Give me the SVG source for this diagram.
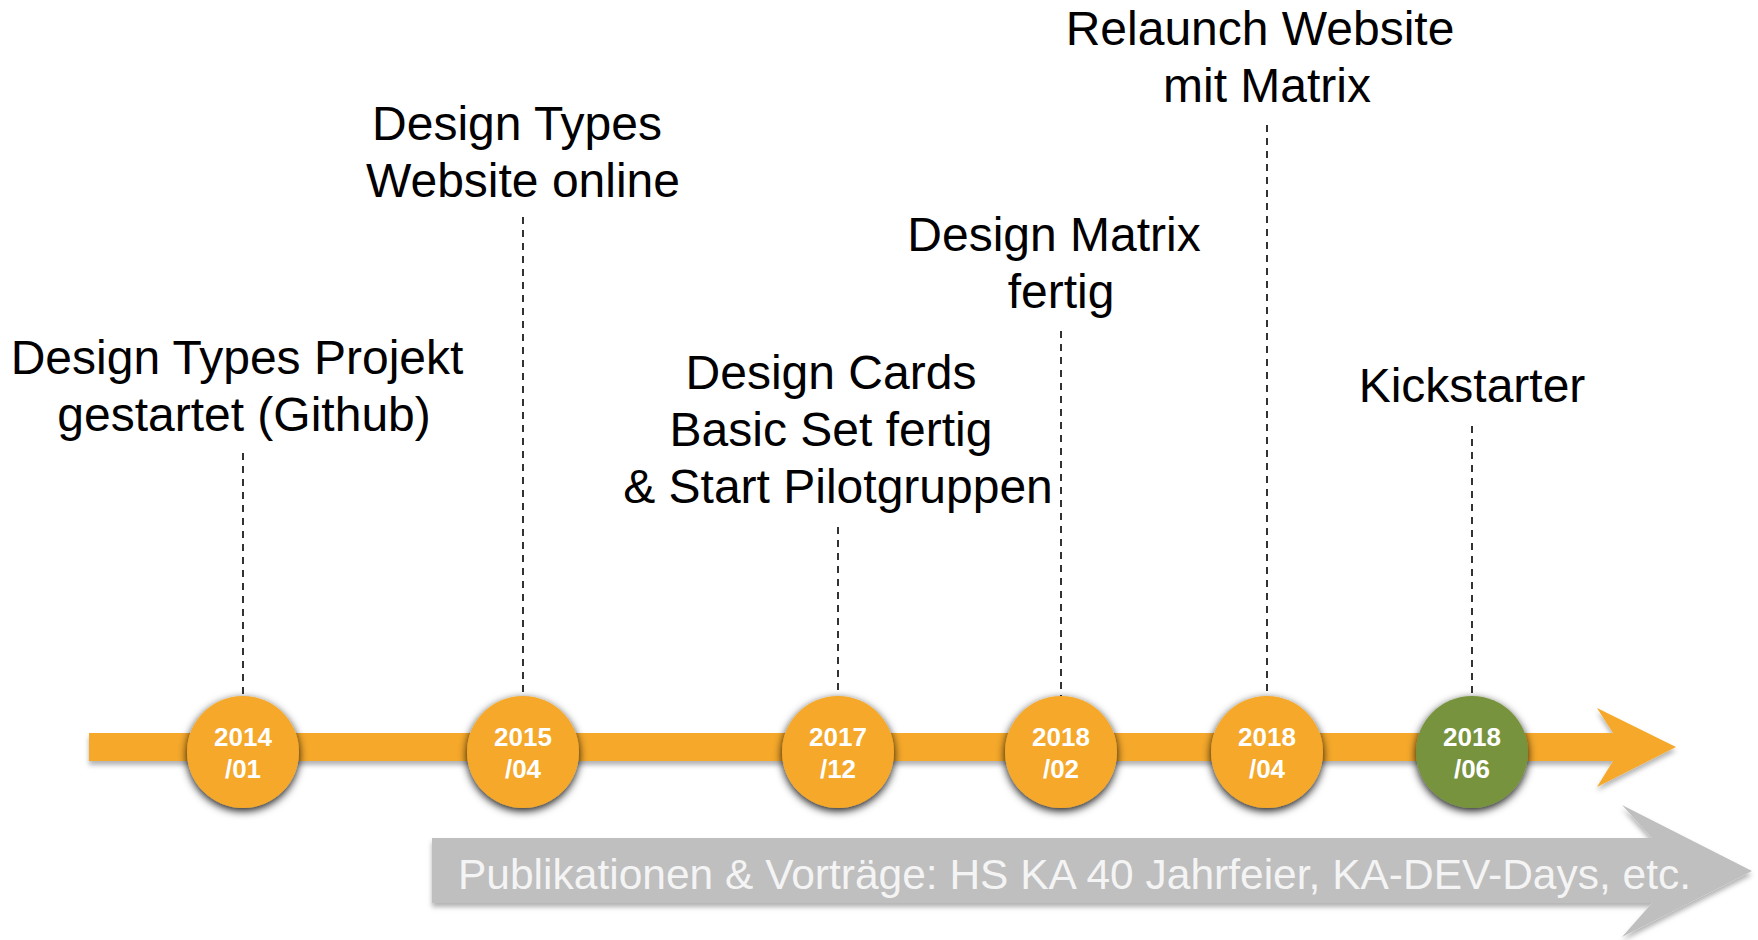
<svg xmlns="http://www.w3.org/2000/svg" width="1758" height="940" viewBox="0 0 1758 940">
  <defs>
    <filter id="soft" x="-5%" y="-50%" width="110%" height="200%">
      <feDropShadow dx="0" dy="4" stdDeviation="2.5" flood-color="#000" flood-opacity="0.3"/>
    </filter>
    <filter id="glow" x="-30%" y="-30%" width="160%" height="160%">
      <feDropShadow dx="0" dy="3" stdDeviation="4.5" flood-color="#000" flood-opacity="0.9"/>
    </filter>
    <style>
      .label { font-family: "Liberation Sans", Arial, sans-serif; font-size: 48px; fill: #000; text-anchor: middle; }
      .date { font-family: "Liberation Sans", Arial, sans-serif; font-size: 26px; font-weight: bold; fill: #fff; text-anchor: middle; }
      .lead { stroke: #000; stroke-width: 1.6; stroke-dasharray: 7 6; fill: none; }
      .orange { fill: #F5A82A; }
      .green { fill: #77933C; }
      .pub { font-family: "Liberation Sans", Arial, sans-serif; font-size: 42.5px; fill: #F4F4F4; }
    </style>
  </defs>

  <rect width="1758" height="940" fill="#fff"/>

  <!-- dashed leaders from each milestone label down to its date -->
  <g id="connectors">
    <line class="lead" x1="243" y1="453" x2="243" y2="696"/>
    <line class="lead" x1="523" y1="217" x2="523" y2="696"/>
    <line class="lead" x1="838" y1="527" x2="838" y2="696"/>
    <line class="lead" x1="1061" y1="331" x2="1061" y2="696"/>
    <line class="lead" x1="1267" y1="125" x2="1267" y2="696"/>
    <line class="lead" x1="1472" y1="426" x2="1472" y2="696"/>
  </g>

  <!-- time axis -->
  <g id="timeline">
    <path class="orange" filter="url(#soft)" d="M89,733 L1613,733 L1597,708 L1676,747 L1597,787 L1613,761 L89,761 Z"/>
  </g>

  <!-- publications band -->
  <g id="publications">
    <path fill="#BFBFBF" filter="url(#soft)" d="M432,838 L1652,838 L1622,805 L1752,871 L1622,937 L1652,903 L432,903 Z"/>
    <text class="pub" x="458" y="889">Publikationen &amp; Vorträge: HS KA 40 Jahrfeier, KA-DEV-Days, etc.</text>
  </g>

  <g id="m2014">
    <text class="label" x="237" y="374">Design Types Projekt</text>
    <text class="label" x="244" y="431">gestartet (Github)</text>
    <circle class="orange" filter="url(#glow)" cx="243" cy="752" r="56"/>
    <text class="date" x="243" y="746">2014</text>
    <text class="date" x="243" y="778">/01</text>
  </g>

  <g id="m2015">
    <text class="label" x="517" y="140">Design Types</text>
    <text class="label" x="523" y="197">Website online</text>
    <circle class="orange" filter="url(#glow)" cx="523" cy="752" r="56"/>
    <text class="date" x="523" y="746">2015</text>
    <text class="date" x="523" y="778">/04</text>
  </g>

  <g id="m2017">
    <text class="label" x="831" y="389">Design Cards</text>
    <text class="label" x="831" y="446">Basic Set fertig</text>
    <text class="label" x="838" y="503">&amp; Start Pilotgruppen</text>
    <circle class="orange" filter="url(#glow)" cx="838" cy="752" r="56"/>
    <text class="date" x="838" y="746">2017</text>
    <text class="date" x="838" y="778">/12</text>
  </g>

  <g id="m2018-02">
    <text class="label" x="1054" y="251">Design Matrix</text>
    <text class="label" x="1061" y="308">fertig</text>
    <circle class="orange" filter="url(#glow)" cx="1061" cy="752" r="56"/>
    <text class="date" x="1061" y="746">2018</text>
    <text class="date" x="1061" y="778">/02</text>
  </g>

  <g id="m2018-04">
    <text class="label" x="1260" y="45">Relaunch Website</text>
    <text class="label" x="1267" y="102">mit Matrix</text>
    <circle class="orange" filter="url(#glow)" cx="1267" cy="752" r="56"/>
    <text class="date" x="1267" y="746">2018</text>
    <text class="date" x="1267" y="778">/04</text>
  </g>

  <g id="m2018-06">
    <text class="label" x="1472" y="402">Kickstarter</text>
    <circle class="green" filter="url(#glow)" cx="1472" cy="752" r="56"/>
    <text class="date" x="1472" y="746">2018</text>
    <text class="date" x="1472" y="778">/06</text>
  </g>
</svg>
